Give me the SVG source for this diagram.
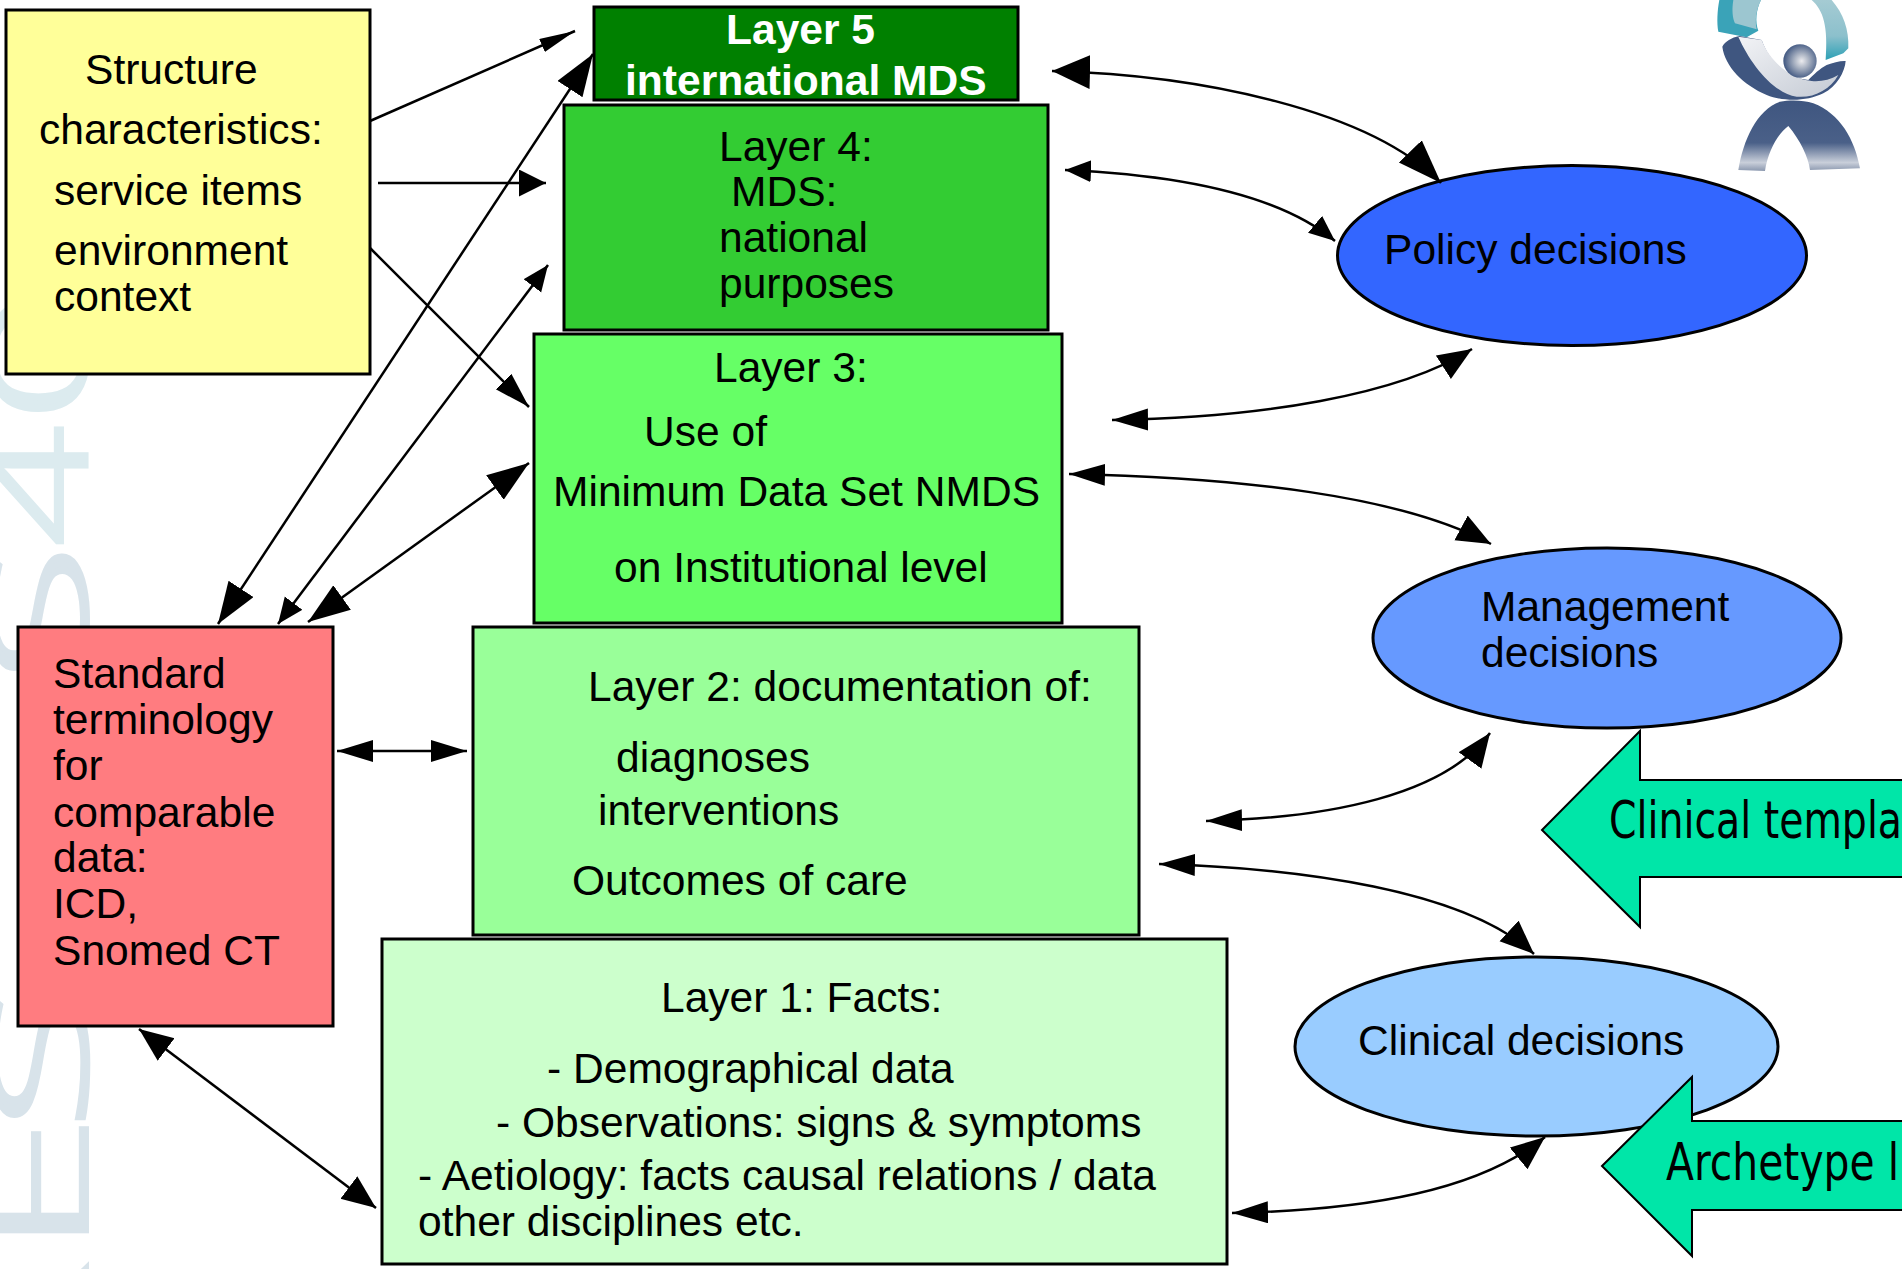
<svg xmlns="http://www.w3.org/2000/svg" width="1902" height="1269" viewBox="0 0 1902 1269">
<style>
text{font-family:"Liberation Sans",Arial,sans-serif;font-size:42.55px;fill:#000}
.box{stroke:#000;stroke-width:3}
.oval{stroke:#000;stroke-width:3}
.block{fill:#00E6A8;stroke:#000;stroke-width:2}
.blocktxt{font-family:"DejaVu Sans",sans-serif;font-size:51px}
text.wm{font-family:"Open Sans",sans-serif;font-size:134px;font-weight:300;fill:#D8E3EA;stroke:#D8E3EA;stroke-width:4}
text.wt{fill:#DCEBEF;stroke:#DCEBEF}
.conn{fill:none;stroke:#000;stroke-width:2.5}
</style>
<defs>
<marker id="hl" markerUnits="userSpaceOnUse" markerWidth="40" markerHeight="36" refX="38" refY="17" orient="auto-start-reverse"><path d="M0,0L38,17L0,34Z"/></marker>
<marker id="hb" markerUnits="userSpaceOnUse" markerWidth="46" markerHeight="36" refX="44" refY="16" orient="auto-start-reverse"><path d="M0,0L44,16L0,32Z"/></marker>
<marker id="hm" markerUnits="userSpaceOnUse" markerWidth="36" markerHeight="30" refX="34" refY="14" orient="auto-start-reverse"><path d="M0,0L34,14L0,28Z"/></marker>
<marker id="hd" markerUnits="userSpaceOnUse" markerWidth="38" markerHeight="24" refX="36" refY="11" orient="auto-start-reverse"><path d="M0,0L36,11L0,22Z"/></marker>
<marker id="hw" markerUnits="userSpaceOnUse" markerWidth="29" markerHeight="29" refX="27" refY="13.5" orient="auto-start-reverse"><path d="M0,0L27,13.5L0,27Z"/></marker>
<marker id="hs" markerUnits="userSpaceOnUse" markerWidth="28" markerHeight="24" refX="26" refY="11" orient="auto-start-reverse"><path d="M0,0L26,11L0,22Z"/></marker>
<marker id="hn" markerUnits="userSpaceOnUse" markerWidth="38" markerHeight="16" refX="36" refY="7" orient="auto-start-reverse"><path d="M0,0L36,7L0,14Z"/></marker>
<marker id="hk" markerUnits="userSpaceOnUse" markerWidth="44" markerHeight="32" refX="42" refY="15" orient="auto-start-reverse"><path d="M0,0L42,15L0,30Z"/></marker>
<linearGradient id="legs" x1="0" y1="0" x2="0" y2="1"><stop offset="0" stop-color="#3F5680"/><stop offset=".6" stop-color="#4A6088"/><stop offset=".88" stop-color="#C9CFDA"/><stop offset="1" stop-color="#8A97AE"/></linearGradient>
<linearGradient id="band" x1="0" y1="0" x2="1" y2="1"><stop offset="0" stop-color="#F2F3F6"/><stop offset="1" stop-color="#C4CAD4"/></linearGradient>
<linearGradient id="teal" x1="0" y1="0" x2="0" y2="1"><stop offset="0" stop-color="#A5CBD3"/><stop offset=".6" stop-color="#8CC0CC"/><stop offset="1" stop-color="#2CA0B5"/></linearGradient>
<radialGradient id="head" cx=".55" cy=".5" r=".55"><stop offset="0" stop-color="#ECECEF"/><stop offset=".4" stop-color="#A9B2C2"/><stop offset="1" stop-color="#3F5680"/></radialGradient>
</defs>

<g id="watermark">
<text class="wm" transform="translate(87 1391) rotate(-90) scale(1.62 1)">R</text>
<text class="wm" transform="translate(87 1255) rotate(-90) scale(1.9 1)">E</text>
<text class="wm" transform="translate(87 1131) rotate(-90) scale(2.03 1)">S</text>
<text class="wm" transform="translate(87 683) rotate(-90) scale(1.9 1)">S</text>
<text class="wm wt" transform="translate(87 546) rotate(-90) scale(1.56 1)">4</text>
<text class="wm wt" transform="translate(87 422) rotate(-90) scale(1.75 1)">0</text>
</g>

<g id="logo" transform="translate(1680 0) scale(.3333)">
<path d="M118,0C112,30 110,70 115,95L200,112L235,92C225,65 228,30 243,0Z" fill="#3AA3B8"/>
<path d="M160,0C155,30 158,55 165,70L230,88C225,60 228,30 243,0Z" fill="#9CC6D0"/>
<path d="M395,0C430,30 445,80 437,180L490,160L505,145C508,90 490,40 455,0Z" fill="url(#teal)"/>
<path d="M127,140C135,125 155,112 178,108L245,120C265,180 320,235 385,240C400,225 420,205 440,195C460,188 480,182 497,183C495,215 470,260 430,280C380,305 310,305 260,285C190,255 135,200 127,140Z" fill="#3F5680"/>
<path d="M175,110L245,120C270,185 330,235 395,243C420,246 450,240 475,225C450,270 400,295 350,290C280,280 210,190 175,110Z" fill="url(#band)"/>
<circle cx="360" cy="183" r="50" fill="url(#head)"/>
<path d="M300,305C230,330 190,420 175,510L255,513C265,450 295,400 325,378C360,420 385,470 390,510L540,505C525,420 480,340 400,310C370,300 330,300 300,305Z" fill="url(#legs)"/>
</g>

<g id="structure"><rect class="box" x="6" y="10" width="364" height="364" fill="#FFFF99"/>
<text x="85" y="84">Structure</text><text x="39" y="144">characteristics:</text><text x="54" y="205">service items</text><text x="54" y="265">environment</text><text x="54" y="311">context</text></g>

<g id="layer5"><rect class="box" x="594" y="7" width="424" height="93" fill="#008000"/>
<text x="726" y="44" font-weight="700" style="fill:#fff">Layer 5</text><text x="625" y="95" font-weight="700" style="fill:#fff">international MDS</text></g>

<g id="layer4"><rect class="box" x="564" y="105" width="484" height="225" fill="#33CC33"/>
<text x="719" y="161">Layer 4:</text><text x="731" y="206">MDS:</text><text x="719" y="252">national</text><text x="719" y="298">purposes</text></g>

<g id="layer3"><rect class="box" x="534" y="334" width="528" height="289" fill="#66FF66"/>
<text x="714" y="382">Layer 3:</text><text x="644" y="446">Use of</text><text x="553" y="506">Minimum Data Set NMDS</text><text x="614" y="582">on Institutional level</text></g>

<g id="layer2"><rect class="box" x="473" y="627" width="666" height="308" fill="#99FF99"/>
<text x="588" y="701">Layer 2: documentation of:</text><text x="616" y="772">diagnoses</text><text x="598" y="825">interventions</text><text x="572" y="895">Outcomes of care</text></g>

<g id="layer1"><rect class="box" x="382" y="939" width="845" height="325" fill="#CCFFCC"/>
<text x="661" y="1012">Layer 1: Facts:</text><text x="547" y="1083">- Demographical data</text><text x="496" y="1137">- Observations: signs &amp; symptoms</text><text x="418" y="1190">- Aetiology: facts causal relations / data</text><text x="418" y="1236">other disciplines etc.</text></g>

<g id="terminology"><rect class="box" x="18" y="627" width="315" height="399" fill="#FF7C80"/>
<text x="53" y="688">Standard</text><text x="53" y="734">terminology</text><text x="53" y="780">for</text><text x="53" y="827">comparable</text><text x="53" y="872">data:</text><text x="53" y="918">ICD,</text><text x="53" y="965">Snomed CT</text></g>

<g id="policy"><ellipse class="oval" cx="1572" cy="255.500" rx="234.500" ry="90" fill="#3366FF"/><text x="1384" y="264">Policy decisions</text></g>
<g id="management"><ellipse class="oval" cx="1607" cy="638" rx="234" ry="90" fill="#6699FF"/><text x="1481" y="621">Management</text><text x="1481" y="667">decisions</text></g>
<g id="clinical"><ellipse class="oval" cx="1536.500" cy="1046.500" rx="241.500" ry="89.500" fill="#99CCFF"/><text x="1358" y="1055">Clinical decisions</text></g>

<g id="clinical-templates"><path class="block" d="M1542,830L1640,731V780H1910V877H1640V927Z"/><text class="blocktxt" x="1609" y="838" textLength="293" lengthAdjust="spacingAndGlyphs">Clinical templa</text></g>
<g id="archetype"><path class="block" d="M1602,1166L1692,1077V1121H1910V1210H1692V1256Z"/><text class="blocktxt" x="1666" y="1180" textLength="233" lengthAdjust="spacingAndGlyphs">Archetype l</text></g>

<g id="connectors">
<path class="conn" d="M370,121L575,31" marker-end="url(#hn)"/>
<path class="conn" d="M378,183H546" marker-end="url(#hw)"/>
<path class="conn" d="M370,248L529,407" marker-end="url(#hd)"/>
<path class="conn" d="M218,624L593,54" marker-start="url(#hk)" marker-end="url(#hk)"/>
<path class="conn" d="M278,624L548,265" marker-start="url(#hs)" marker-end="url(#hs)"/>
<path class="conn" d="M308,622L529,463" marker-start="url(#hk)" marker-end="url(#hk)"/>
<path class="conn" d="M337,751H467" marker-start="url(#hd)" marker-end="url(#hd)"/>
<path class="conn" d="M139,1029L376,1208" marker-start="url(#hm)" marker-end="url(#hm)"/>
<path class="conn" d="M1052,71C1200,75 1370,110 1441,183" marker-start="url(#hl)" marker-end="url(#hb)"/>
<path class="conn" d="M1065,170C1180,175 1280,195 1335,241" marker-start="url(#hs)" marker-end="url(#hs)"/>
<path class="conn" d="M1112,420C1260,418 1400,395 1472,349" marker-start="url(#hd)" marker-end="url(#hm)"/>
<path class="conn" d="M1069,474C1240,478 1400,495 1491,544" marker-start="url(#hd)" marker-end="url(#hm)"/>
<path class="conn" d="M1206,821C1330,818 1445,795 1490,733" marker-start="url(#hd)" marker-end="url(#hm)"/>
<path class="conn" d="M1159,864C1300,868 1465,890 1534,954" marker-start="url(#hd)" marker-end="url(#hm)"/>
<path class="conn" d="M1232,1213C1370,1210 1480,1190 1545,1137" marker-start="url(#hd)" marker-end="url(#hm)"/>
</g>
</svg>
